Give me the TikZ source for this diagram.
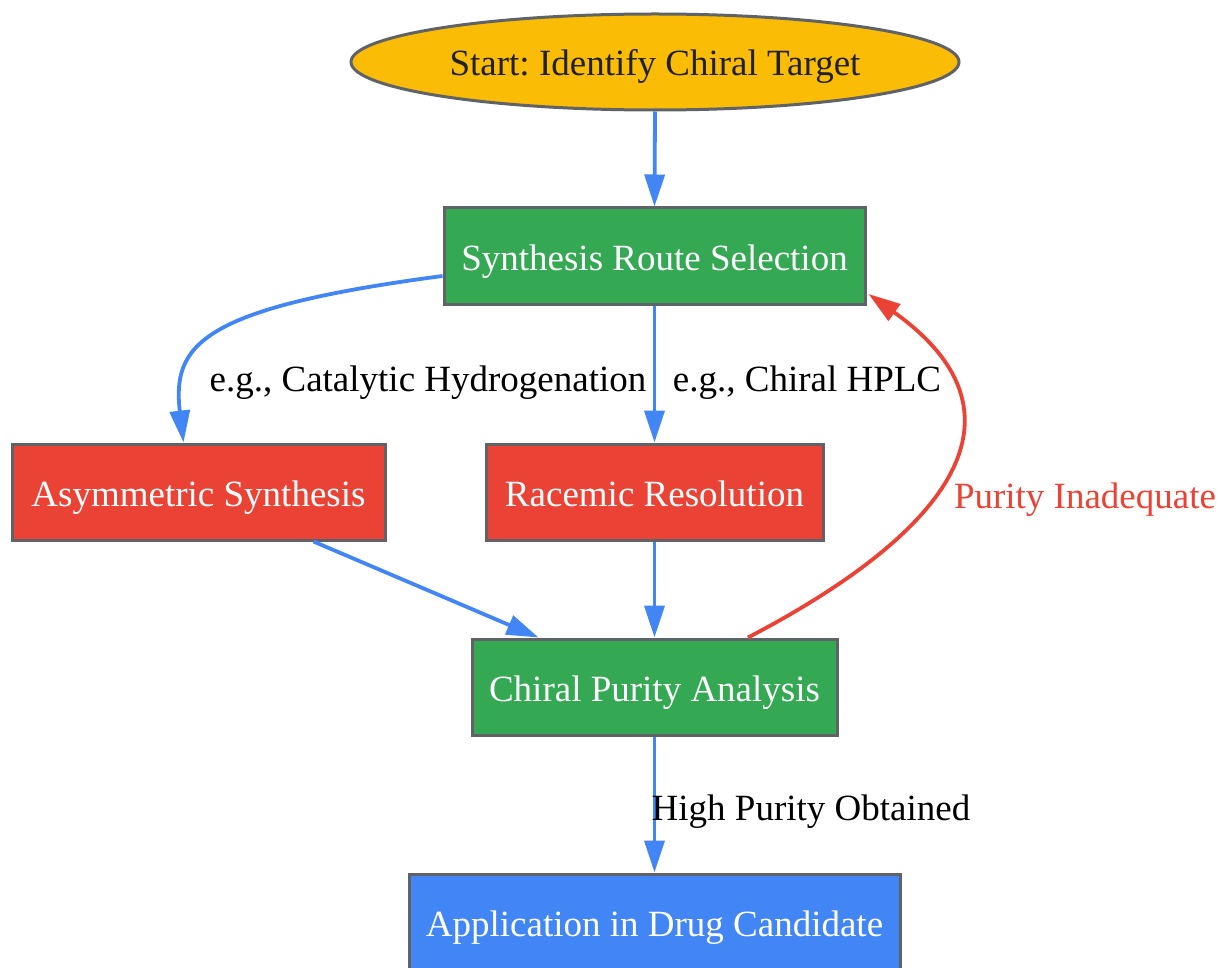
\documentclass[tikz,border=0pt]{standalone}
\usepackage{fontspec}
\setmainfont{Liberation Serif}
\usetikzlibrary{shapes.geometric,arrows.meta}
\definecolor{gyellow}{HTML}{FBBC05}
\definecolor{ggreen}{HTML}{34A853}
\definecolor{gred}{HTML}{EA4335}
\definecolor{gblue}{HTML}{4285F4}
\definecolor{ggray}{HTML}{5F6368}
\definecolor{gdark}{HTML}{202124}
\frenchspacing
\tikzset{
  txt/.style={font=\fontsize{37}{44}\selectfont, text height=33pt, text depth=5pt},
  box/.style={txt, draw=ggray, line width=3pt, rectangle, minimum height=96pt, inner sep=0pt, text=white},
  oval/.style={txt, draw=ggray, line width=3pt, ellipse, fill=gyellow, minimum width=608pt, minimum height=96pt, inner sep=0pt, text=gdark},
  edge/.style={draw=gblue, line width=3.8pt, -{Triangle[length=32pt,width=20pt]}},
  redge/.style={draw=gred, line width=3.8pt, -{Triangle[length=32pt,width=20pt]}},
  lbl/.style={txt, text=black, inner sep=0pt},
}
\begin{document}
\begin{tikzpicture}[x=1pt,y=-1pt]
\useasboundingbox (0,0) rectangle (1220,968);
\node[oval] (start) at (655,62) {Start: Identify Chiral Target};
\node[box, fill=ggreen, minimum width=421pt] (synth) at (654.5,256) {Synthesis Route Selection};
\node[box, fill=gred, minimum width=373pt] (asym) at (198.5,492) {Asymmetric Synthesis};
\node[box, fill=gred, minimum width=337pt] (race) at (654.5,492) {Racemic Resolution};
\node[box, fill=ggreen, minimum width=365pt] (pur) at (654.5,687) {Chiral Purity Analysis};
\node[box, fill=gblue, minimum width=491pt] (app) at (654.5,922) {Application in Drug Candidate};

\draw[edge] (start.south) -- (synth.north);
\draw[edge] ([yshift=-20pt]synth.west) .. controls (200,308) and (172,345) .. ([xshift=-15pt]asym.north);
\draw[edge] (synth.south) -- (race.north);
\draw[edge] ([xshift=-73pt]asym.south east) -- ([xshift=68pt]pur.north west);
\draw[edge] (race.south) -- (pur.north);
\draw[redge] ([xshift=93.5pt]pur.north) .. controls (935,540) and (1045,420) .. ([yshift=-38pt,xshift=2pt]synth.east);
\draw[edge] (pur.south) -- (app.north);

\node[lbl] (l1) at (428,377) {e.g., Catalytic Hydrogenation};
\node[lbl] (l2) at (807,377) {e.g., Chiral HPLC};
\node[lbl, text=gred] (l3) at (1085,494) {Purity Inadequate};
\node[lbl] (l4) at (811,806) {High Purity Obtained};
\end{tikzpicture}
\end{document}
